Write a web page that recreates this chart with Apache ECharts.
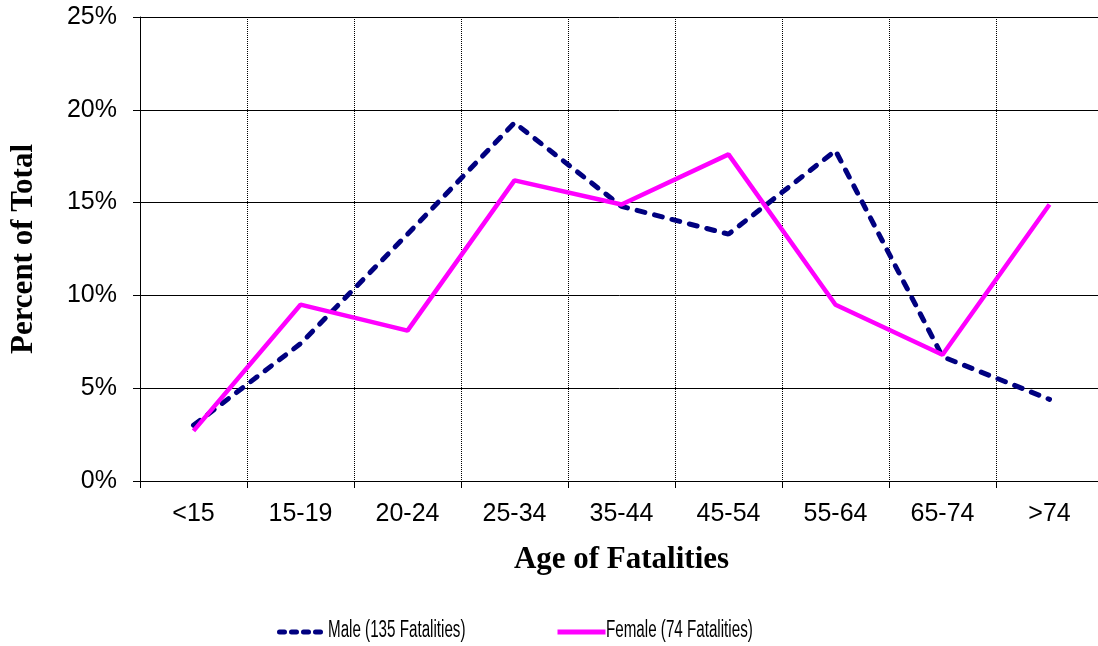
<!DOCTYPE html>
<html>
<head>
<meta charset="utf-8">
<script src="https://cdn.jsdelivr.net/npm/echarts@6/dist/echarts.min.js"></script>
<style>
  html, body { margin: 0; padding: 0; background: #fff; }
  #chart { width: 1098px; height: 646px; }
</style>
</head>
<body>
<div id="chart"></div>
<script>
// age groups and share of fatalities (%)
var ageGroups = ['<15', '15-19', '20-24', '25-34', '35-44', '45-54', '55-64', '65-74', '>74'];
var maleData = [3.0, 7.4, 13.3, 19.3, 14.8, 13.3, 17.8, 6.7, 4.4];
var femaleData = [2.7, 9.5, 8.1, 16.2, 14.9, 17.6, 9.5, 6.8, 14.9];
var seriesNames = ['Male (135 Fatalities)', 'Female (74 Fatalities)'];

var chart = echarts.init(document.getElementById('chart'));

// legend labels are drawn as narrow text next to the legend icons
function legendLabel(text, x) {
    return {
        type: 'text',
        x: x,
        y: 631,
        scaleX: 0.66,
        style: {
            text: text,
            fontFamily: 'Liberation Sans, Arial',
            fontSize: 23,
            fill: '#000',
            verticalAlign: 'middle'
        }
    };
}

var option = {
    animation: false,
    backgroundColor: '#fff',
    grid: {
        left: 140,
        top: 17,
        width: 963,
        height: 464,
        outerBoundsMode: 'none'
    },
    legend: {
        top: 626,
        left: 277,
        padding: 0,
        itemWidth: 48,
        itemHeight: 12,
        itemGap: 225,
        formatter: function () { return ''; },
        itemStyle: { opacity: 0 },
        data: [
            { name: seriesNames[0], lineStyle: { type: [5, 7], width: 5, cap: 'round' } },
            { name: seriesNames[1], lineStyle: { width: 5 } }
        ]
    },
    graphic: [
        legendLabel(seriesNames[0], 328),
        legendLabel(seriesNames[1], 606)
    ],
    xAxis: {
        type: 'category',
        data: ageGroups,
        boundaryGap: true,
        name: 'Age of Fatalities',
        nameLocation: 'middle',
        nameGap: 63,
        nameTextStyle: {
            fontFamily: 'Liberation Serif, Times New Roman',
            fontWeight: 'bold',
            fontSize: 31,
            color: '#000'
        },
        axisLine: { lineStyle: { color: '#000', width: 1 } },
        axisTick: { show: true, length: 7, lineStyle: { color: '#000' } },
        axisLabel: {
            margin: 21,
            fontFamily: 'Liberation Sans, Arial',
            fontSize: 25,
            color: '#000'
        },
        splitLine: {
            show: true,
            lineStyle: { color: '#000', type: 'dotted', width: 1 }
        }
    },
    yAxis: {
        type: 'value',
        min: 0,
        max: 25,
        interval: 5,
        name: 'Percent of Total',
        nameLocation: 'middle',
        nameGap: 101,
        nameTextStyle: {
            fontFamily: 'Liberation Serif, Times New Roman',
            fontWeight: 'bold',
            fontSize: 31,
            color: '#000'
        },
        axisLine: { show: true, lineStyle: { color: '#000', width: 1 } },
        axisTick: { show: true, length: 7, lineStyle: { color: '#000' } },
        axisLabel: {
            formatter: '{value}%',
            margin: 23,
            fontFamily: 'Liberation Sans, Arial',
            fontSize: 25,
            color: '#000'
        },
        splitLine: {
            show: true,
            lineStyle: { color: '#000', type: 'solid', width: 1 }
        }
    },
    series: [
        {
            name: seriesNames[0],
            type: 'line',
            data: maleData,
            symbol: 'none',
            color: '#000080',
            lineStyle: { color: '#000080', width: 5, type: [8, 10], cap: 'round' }
        },
        {
            name: seriesNames[1],
            type: 'line',
            data: femaleData,
            symbol: 'none',
            color: '#ff00ff',
            lineStyle: { color: '#ff00ff', width: 4.5 }
        }
    ]
};

chart.setOption(option);
</script>
</body>
</html>
